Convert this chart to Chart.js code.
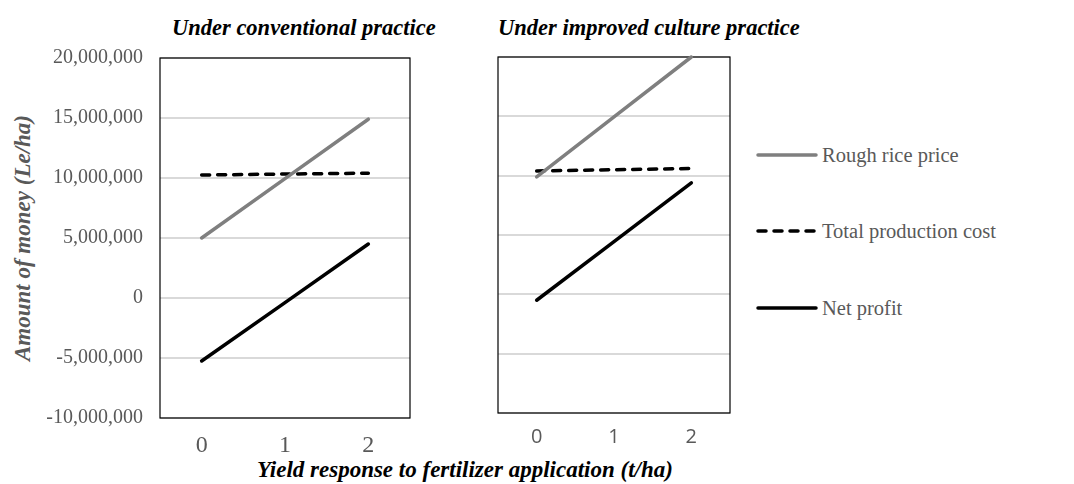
<!DOCTYPE html>
<html lang="en">
<head>
<meta charset="UTF-8">
<title>Yield response to fertilizer application</title>
<script src="https://cdn.jsdelivr.net/npm/chart.js@4.4.0/dist/chart.umd.min.js"></script>
<style>
  body { margin: 0; background: #fff; width: 1074px; height: 484px; position: relative; overflow: hidden; }
  .t { position: absolute; font-family: "Liberation Serif", "Times New Roman", serif; white-space: nowrap; line-height: 22px; }
  .title { font-size: 22.5px; font-weight: bold; font-style: italic; color: #000; }
  .ytitle { font-size: 23px; font-weight: bold; font-style: italic; color: #595959; transform: rotate(-90deg); transform-origin: center; }
  .leg { font-size: 20.5px; color: #595959; }
  canvas { position: absolute; }
</style>
</head>
<body>

<div class="t title" style="left:172px; top:17px;">Under conventional practice</div>
<div class="t title" style="left:498px; top:17px;">Under improved culture practice</div>
<div class="t ytitle" id="ytitle">Amount of money (Le/ha)</div>
<div class="t title" id="xtitle" style="top:459px; font-size:23px;">Yield response to fertilizer application (t/ha)</div>

<canvas id="convChart" width="420" height="431" style="left:0; top:29px;"></canvas>
<canvas id="impChart" width="250" height="420" style="left:490px; top:40px;"></canvas>

<div id="legend"></div>

<script>
// categories and series values
const categories = ['0', '1', '2'];
const convRice = [5000000, 9950000, 14900000];
const convCost = [10250000, 10330000, 10400000];
const convNet = [-5250000, -380000, 4500000];
const impRice = [9900000, 14950000, 20000000];
const impCost = [10400000, 10500000, 10600000];
const impNet = [-500000, 4450000, 9400000];
const seriesNames = ['Rough rice price', 'Total production cost', 'Net profit'];

const grey = '#595959';
const lineStyles = [
    { color: '#7f7f7f', dash: [] },
    { color: '#000000', dash: [8, 8] },
    { color: '#000000', dash: [] }
];

// center the loose titles
const yt = document.getElementById('ytitle');
yt.style.left = (23 - yt.offsetWidth / 2) + 'px';
yt.style.top = (238 - 11) + 'px';
const xt = document.getElementById('xtitle');
xt.style.left = (465 - xt.offsetWidth / 2) + 'px';

// box around the plot area
const frame = {
    id: 'frame',
    beforeDatasetsDraw(chart) {
        const a = chart.chartArea, ctx = chart.ctx;
        ctx.save();
        ctx.strokeStyle = '#000';
        ctx.lineWidth = 1.2;
        ctx.strokeRect(a.left, a.top, a.right - a.left, a.bottom - a.top);
        ctx.restore();
    }
};

function makeDatasets(vals) {
    return vals.map((d, i) => ({
        label: seriesNames[i],
        data: d,
        borderColor: lineStyles[i].color,
        borderDash: lineStyles[i].dash,
        borderWidth: 3.5,
        borderCapStyle: 'round',
        pointRadius: 0,
        tension: 0,
        clip: 6
    }));
}

function makeChart(id, vals, opts) {
    return new Chart(document.getElementById(id), {
        type: 'line',
        data: { labels: categories, datasets: makeDatasets(vals) },
        options: {
            responsive: false,
            animation: false,
            devicePixelRatio: 1,
            layout: { padding: { top: opts.top, right: 10, bottom: 0, left: 0 } },
            plugins: { legend: { display: false }, tooltip: { enabled: false } },
            scales: {
                x: {
                    offset: true,
                    grid: { display: false, drawTicks: false },
                    border: { display: false },
                    ticks: { color: grey, padding: opts.xPad, font: opts.xFont },
                    afterFit(s) { s.height = opts.xHeight; }
                },
                y: {
                    min: -10000000, max: 20000000,
                    grid: { color: '#d9d9d9', lineWidth: 2, drawTicks: false },
                    border: { display: false },
                    ticks: {
                        display: opts.yTicks,
                        stepSize: 5000000,
                        color: grey,
                        padding: 17,
                        font: { family: '"Liberation Serif", "Times New Roman", serif', size: 20 },
                        callback: v => v.toLocaleString('en-US')
                    },
                    afterFit(s) { s.width = opts.yWidth; }
                }
            }
        },
        plugins: [frame]
    });
}

makeChart('convChart', [convRice, convCost, convNet], {
    top: 6, yTicks: true, yWidth: 160, xHeight: 42, xPad: 13,
    xFont: { family: '"Liberation Serif", "Times New Roman", serif', size: 24 }
});
makeChart('impChart', [impRice, impCost, impNet], {
    top: 17, yTicks: false, yWidth: 8, xHeight: 47, xPad: 12,
    xFont: { family: '"Open Sans", sans-serif', size: 20 }
});

// legend on the right
const rows = [155, 231, 308];
const legend = document.getElementById('legend');
seriesNames.forEach((name, i) => {
    const svg = document.createElementNS('http://www.w3.org/2000/svg', 'svg');
    svg.setAttribute('width', 64);
    svg.setAttribute('height', 10);
    svg.style.position = 'absolute';
    svg.style.left = '755px';
    svg.style.top = (rows[i] - 5) + 'px';
    const ln = document.createElementNS('http://www.w3.org/2000/svg', 'line');
    ln.setAttribute('x1', 3); ln.setAttribute('x2', 61);
    ln.setAttribute('y1', 5); ln.setAttribute('y2', 5);
    ln.setAttribute('stroke', lineStyles[i].color);
    ln.setAttribute('stroke-width', 3.5);
    ln.setAttribute('stroke-linecap', 'round');
    if (lineStyles[i].dash.length) ln.setAttribute('stroke-dasharray', lineStyles[i].dash.join(' '));
    svg.appendChild(ln);
    legend.appendChild(svg);
    const t = document.createElement('div');
    t.className = 't leg';
    t.style.left = '822px';
    t.style.top = (rows[i] - 11) + 'px';
    t.textContent = name;
    legend.appendChild(t);
});
</script>
</body>
</html>
